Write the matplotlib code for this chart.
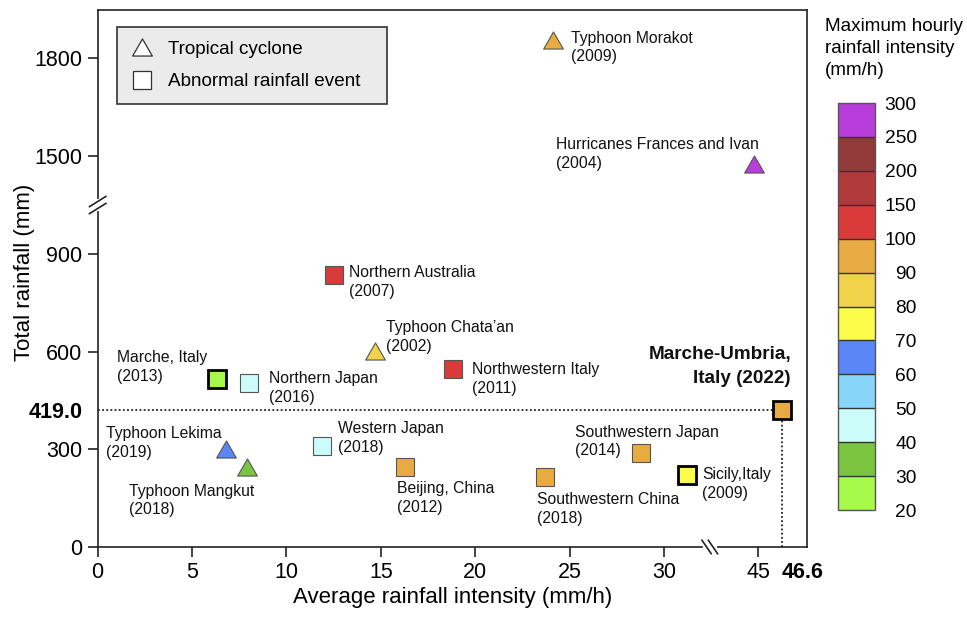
import numpy as np
import matplotlib
matplotlib.use('Agg')

from matplotlib import pyplot as plt
from matplotlib.colors import ListedColormap, BoundaryNorm
from matplotlib.cm import ScalarMappable
from matplotlib.lines import Line2D
from matplotlib.path import Path

plt.rcParams['font.family'] = ['Liberation Sans', 'DejaVu Sans']

# rainfall events
names = ['Typhoon Morakot', 'Hurricanes Frances and Ivan', 'Northern Australia',
         'Typhoon Chata\u2019an', 'Marche, Italy', 'Northern Japan',
         'Northwestern Italy', 'Typhoon Lekima', 'Typhoon Mangkut',
         'Western Japan', 'Beijing, China', 'Southwestern Japan',
         'Southwestern China', 'Sicily,Italy', 'Marche-Umbria, Italy']
years = [2009, 2004, 2007, 2002, 2013, 2016, 2011, 2019, 2018, 2018, 2012,
         2014, 2018, 2009, 2022]
avg_intensity = [24.1, 44.7, 12.5, 14.7, 6.3, 8.0, 18.8, 6.8, 7.9, 11.9, 16.3,
                 28.8, 23.7, 31.2, 46.6]
total_rainfall = [1855, 1475, 836, 603, 517, 502, 545, 300, 245, 309, 245,
                  288, 214, 220, 419.0]
max_hourly = [95, 275, 125, 85, 25, 45, 125, 65, 35, 45, 95, 95, 95, 75, 95]
event_type = ['cyclone', 'cyclone', 'rain', 'cyclone', 'rain', 'rain', 'rain',
              'cyclone', 'cyclone', 'rain', 'rain', 'rain', 'rain', 'rain',
              'rain']
focus_events = ['Marche, Italy', 'Sicily,Italy', 'Marche-Umbria, Italy']

# colour classes of the maximum hourly intensity
bounds = [20, 30, 40, 50, 60, 70, 80, 90, 100, 150, 200, 250, 300]
class_colors = ['#a6f84a', '#7cc540', '#ccfcfa', '#87d6f9', '#5b87f6',
                '#fbfb4a', '#f0d34b', '#e8ab43', '#d93b3b', '#b03a3a',
                '#923a3a', '#b83ddb']

xticks = [0, 5, 10, 15, 20, 25, 30, 45]
yticks = [0, 300, 600, 900, 1500, 1800]

# label placement (points from marker, text alignment)
label_offsets = [(13, -5.4, 'left'), (-142.6, 7.2, 'left'), (11.2, -5.4, 'left'),
                 (7.9, 9.7, 'left'), (-72, 8.3, 'left'), (14.8, -3.2, 'left'),
                 (13.7, -6.8, 'left'), (-86.4, 4.3, 'left'), (-85, -24.1, 'left'),
                 (11.5, 6.1, 'left'), (-6.1, -22, 'left'), (-47.9, 8.3, 'left'),
                 (-6.1, -22.7, 'left'), (11.3, -6.1, 'left'), (6.5, 31.7, 'right')]

cmap = ListedColormap(class_colors)
norm = BoundaryNorm(bounds, cmap.N)

# broken axes as piecewise-linear scales
x_in, x_out = [-1e3, 32.4, 44, 1e3], [-1e3, 32.4, 34.2, 34.2 + (1e3 - 44) * 0.79]
y_in, y_out = [-1e4, 1050, 1350, 1e4], [-1e4, 1050, 1051, 1051 + (1e4 - 1350)]


def x_fwd(v):
    return np.interp(v, x_in, x_out)


def x_inv(v):
    return np.interp(v, x_out, x_in)


def y_fwd(v):
    return np.interp(v, y_in, y_out)


def y_inv(v):
    return np.interp(v, y_out, y_in)


tri = Path([(-1, -0.866), (1, -0.866), (0, 0.866), (-1, -0.866)], closed=True)
markers = {'cyclone': (tri, 14.2), 'rain': ('s', 13.2)}

fig = plt.figure(figsize=(9.67, 6.17), dpi=100)
ax = fig.add_axes([0.101, 0.1135, 0.7335, 0.870])
ax.set_xscale('function', functions=(x_fwd, x_inv))
ax.set_yscale('function', functions=(y_fwd, y_inv))
ax.set_xlim(0, 48.27)
ax.set_ylim(0, 1947)

# reference lines for the 2022 event
ax.plot([0, avg_intensity[-1]], [total_rainfall[-1]] * 2, ls=(0, (1, 1.3)),
        color='#222222', lw=1.3, zorder=2)
ax.plot([avg_intensity[-1]] * 2, [0, total_rainfall[-1]], ls=(0, (1, 1.3)),
        color='#222222', lw=1.3, zorder=2)

for i, name in enumerate(names):
    mk, ms = markers[event_type[i]]
    focus = name in focus_events
    ax.plot(avg_intensity[i], total_rainfall[i], marker=mk, ms=ms,
            mfc=cmap(norm(max_hourly[i])),
            mec='#000000' if focus else '#555555',
            mew=2.0 if focus else 0.8, ls='none', zorder=4, clip_on=False)
    dx, dy, ha = label_offsets[i]
    if years[i] == 2022:
        text = 'Marche-Umbria,\nItaly (%d)' % years[i]
        ax.annotate(text, (avg_intensity[i], total_rainfall[i]),
                    xytext=(dx, dy), textcoords='offset points', ha=ha,
                    va='center', fontsize=13.6, fontweight='bold',
                    linespacing=1.6, color='#111111')
    else:
        text = '%s\n(%d)' % (name, years[i])
        ax.annotate(text, (avg_intensity[i], total_rainfall[i]),
                    xytext=(dx, dy), textcoords='offset points', ha=ha,
                    va='center', fontsize=11.3, linespacing=1.3,
                    color='#111111')

# ticks
ax.set_xticks(xticks + [avg_intensity[-1]])
ax.set_xticklabels([str(t) for t in xticks] + ['%.1f' % avg_intensity[-1]])
ax.set_yticks(yticks + [total_rainfall[-1]])
ax.set_yticklabels([str(t) for t in yticks] + ['%.1f' % total_rainfall[-1]])
ax.tick_params(direction='out', length=7, width=1.2, labelsize=15.5,
               color='#222222', pad=4)
for tick in (ax.xaxis.get_major_ticks()[-1], ax.yaxis.get_major_ticks()[-1]):
    tick.tick1line.set_visible(False)
    tick.label1.set_fontweight('bold')
ax.xaxis.get_major_ticks()[-1].label1.set_horizontalalignment('left')

for side in ['left', 'right', 'top', 'bottom']:
    ax.spines[side].set_linewidth(1.2)
    ax.spines[side].set_color('#222222')

ax.set_xlabel('Average rainfall intensity (mm/h)', fontsize=16, labelpad=2.5)
ax.set_ylabel('Total rainfall (mm)', fontsize=16)
ax.yaxis.set_label_coords(-0.089, 0.512)

# break marks on the axes
kw = dict(transform=ax.transAxes, clip_on=False, zorder=6)
yb = 0.637
ax.plot([0, 0], [yb - 0.008, yb + 0.008], color='white', lw=3, **kw)
for off in (-0.0065, 0.0065):
    ax.plot([-0.0115, 0.0115], [yb + off - 0.0095, yb + off + 0.0095],
            color='#222222', lw=1.2, **kw)
xb = 0.863
ax.plot([xb - 0.007, xb + 0.007], [0, 0], color='white', lw=3, **kw)
for off in (-0.0045, 0.0045):
    ax.plot([xb + off - 0.0065, xb + off + 0.0065], [0.0125, -0.0125],
            color='#222222', lw=1.2, **kw)

# legend for the event type
handles = [Line2D([], [], marker=tri, ms=14.2, mfc='white', mec='#333333',
                  mew=0.9, ls='none', label='Tropical cyclone'),
           Line2D([], [], marker='s', ms=13.2, mfc='white', mec='#333333',
                  mew=0.9, ls='none', label='Abnormal rainfall event')]
leg = ax.legend(handles=handles, loc='upper left',
                bbox_to_anchor=(0.0272, 0.825, 0.3807, 0.1433), mode='expand',
                borderaxespad=0, fontsize=13.6, frameon=True, fancybox=False,
                facecolor='#ebebeb', edgecolor='#333333', framealpha=1,
                handlelength=1.25, handletextpad=0.75, labelspacing=0.82,
                borderpad=0.7)
leg.get_frame().set_linewidth(1.2)

# colour bar for maximum hourly intensity
cax = fig.add_axes([0.8666, 0.1734, 0.0383, 0.6596])
cb = fig.colorbar(ScalarMappable(norm=norm, cmap=cmap), cax=cax,
                  spacing='uniform', drawedges=True, ticks=bounds)
cb.dividers.set_color('#333333')
cb.dividers.set_linewidth(1.0)
cb.outline.set_edgecolor('#555555')
cb.outline.set_linewidth(1.0)
cax.tick_params(length=0, pad=30, labelsize=13.8)
for lab in cax.get_yticklabels():
    lab.set_horizontalalignment('right')
fig.text(0.853, 0.971, 'Maximum hourly\nrainfall intensity\n(mm/h)',
         fontsize=13.6, ha='left', va='top', linespacing=1.39)

fig.savefig('out.png', dpi=100)
